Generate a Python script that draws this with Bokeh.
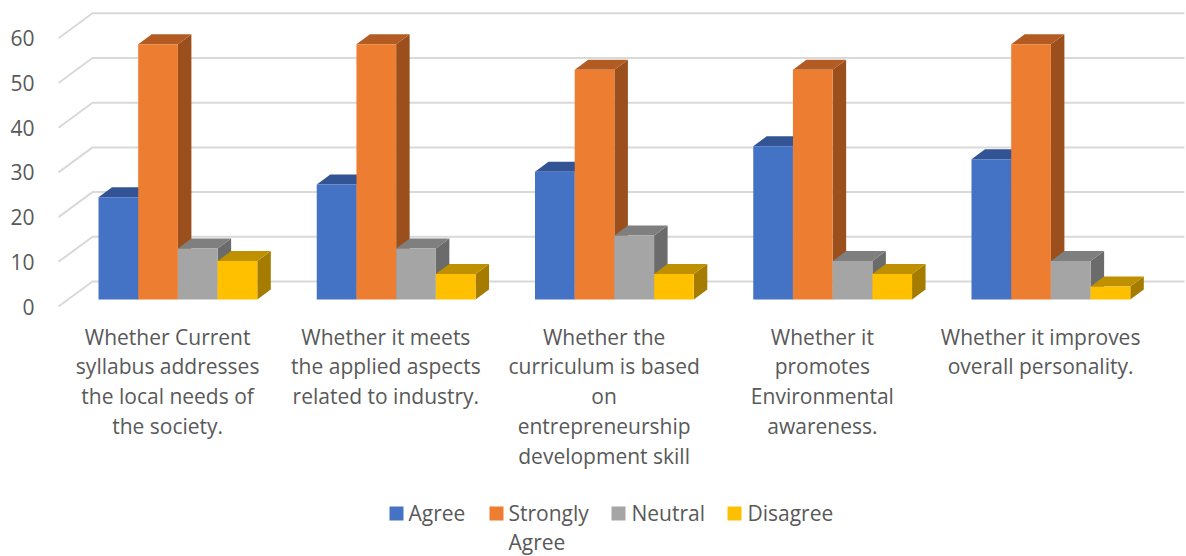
from bokeh.plotting import figure
from bokeh.models import FixedTicker, Range1d
from bokeh.core.properties import value
from bokeh.embed import file_html
from bokeh.resources import INLINE

categories = [
    "Whether Current\nsyllabus addresses\nthe local needs of\nthe society.",
    "Whether it meets\nthe applied aspects\nrelated to industry.",
    "Whether the\ncurriculum is based\non\nentrepreneurship\ndevelopment skill",
    "Whether it\npromotes\nEnvironmental\nawareness.",
    "Whether it improves\noverall personality.",
]
series_names = ["Agree", "Strongly\nAgree", "Neutral", "Disagree"]
agree = [22.9, 25.7, 28.6, 34.3, 31.4]
strongly_agree = [57.1, 57.1, 51.4, 51.4, 57.1]
neutral = [11.4, 11.4, 14.3, 8.6, 8.6]
disagree = [8.6, 5.7, 5.7, 5.7, 2.9]
y_ticks = [0, 10, 20, 30, 40, 50, 60]

front_colors = ["#4472C4", "#ED7D31", "#A5A5A5", "#FFC000"]
top_colors = ["#325494", "#B25B22", "#7F7F7F", "#BF9000"]
side_colors = ["#2B4A80", "#9A4F1C", "#6B6B6B", "#A67C00"]
all_series = [agree, strongly_agree, neutral, disagree]

# scales: pixels per data unit; data origin sits at pixel (58, 306)
PX_X = 218.25
PX_Y = 4.47
X0, Y0 = 58, 306
def dx(px):
    return (px - X0) / PX_X
def dy(py):
    return (Y0 - py) / PX_Y

WALL_DX, WALL_DY = 34 / PX_X, 25 / PX_Y
BAR_DX, BAR_DY = 13.5 / PX_X, 10 / PX_Y
BASE = 7 / PX_Y
BAR_W = 39.7 / PX_X
GROUP_INSET = 40 / PX_X

TXT = "#595959"
FONT = "Open Sans"

FIG_W, FIG_H = 1186, 556
p = figure(width=FIG_W, height=FIG_H, output_backend="svg", toolbar_location=None,
           x_axis_location=None,
           min_border_left=50, min_border_right=0, min_border_top=0, min_border_bottom=0,
           x_range=Range1d(dx(50), dx(1186)), y_range=Range1d(dy(556), dy(0)),
           outline_line_color=None, background_fill_color=None)
p.grid.visible = False

# wall + floor grid lines
xmax = dx(1184)
p.multi_line(xs=[[0, WALL_DX, xmax] for _ in y_ticks],
             ys=[[v, v + WALL_DY, v + WALL_DY] for v in y_ticks],
             line_color="#D9D9D9", line_width=2)

for j, vals in enumerate(all_series):
    lefts = [i + GROUP_INSET + j * BAR_W for i in range(len(vals))]
    rights = [l + BAR_W for l in lefts]
    tops = [BASE + v for v in vals]
    side_x = [[r, r + BAR_DX, r + BAR_DX, r] for r in rights]
    side_y = [[BASE, BASE + BAR_DY, t + BAR_DY, t] for t in tops]
    top_x = [[l, l + BAR_DX, r + BAR_DX, r] for l, r in zip(lefts, rights)]
    top_y = [[t, t + BAR_DY, t + BAR_DY, t] for t in tops]
    p.patches(side_x, side_y, fill_color=side_colors[j], line_color=None)
    p.patches(top_x, top_y, fill_color=top_colors[j], line_color=None)
    p.quad(left=lefts, right=rights, bottom=[BASE] * len(vals), top=tops,
           fill_color=front_colors[j], line_color=None)

# value axis
p.yaxis.ticker = FixedTicker(ticks=y_ticks)
p.yaxis.axis_line_color = None
p.yaxis.major_tick_line_color = None
p.yaxis.minor_tick_line_color = None
p.yaxis.major_label_text_color = TXT
p.yaxis.major_label_text_font = FONT
p.yaxis.major_label_text_font_size = "21px"
p.yaxis.major_label_standoff = 10

# category labels
centers = [i + 0.5 for i in range(len(categories))]
p.text(x=centers, y=[dy(322)] * len(categories), text=categories,
       text_align="center", text_baseline="top", text_color=TXT,
       text_font=value(FONT), text_font_size="21px", text_line_height=1.065)

# legend
swatch_px = [389, 489, 611, 727]
label_px = [408, 508, 631, 747]
p.quad(left=[dx(s) for s in swatch_px], right=[dx(s + 14) for s in swatch_px],
       top=[dy(506)] * 4, bottom=[dy(520)] * 4, fill_color=front_colors, line_color=None)
p.text(x=[dx(s) for s in label_px], y=[dy(498)] * 4, text=series_names,
       text_align="left", text_baseline="top", text_color=TXT,
       text_font=value(FONT), text_font_size="21px", text_line_height=1.065)

open("out.html", "w").write(file_html(p, INLINE))
